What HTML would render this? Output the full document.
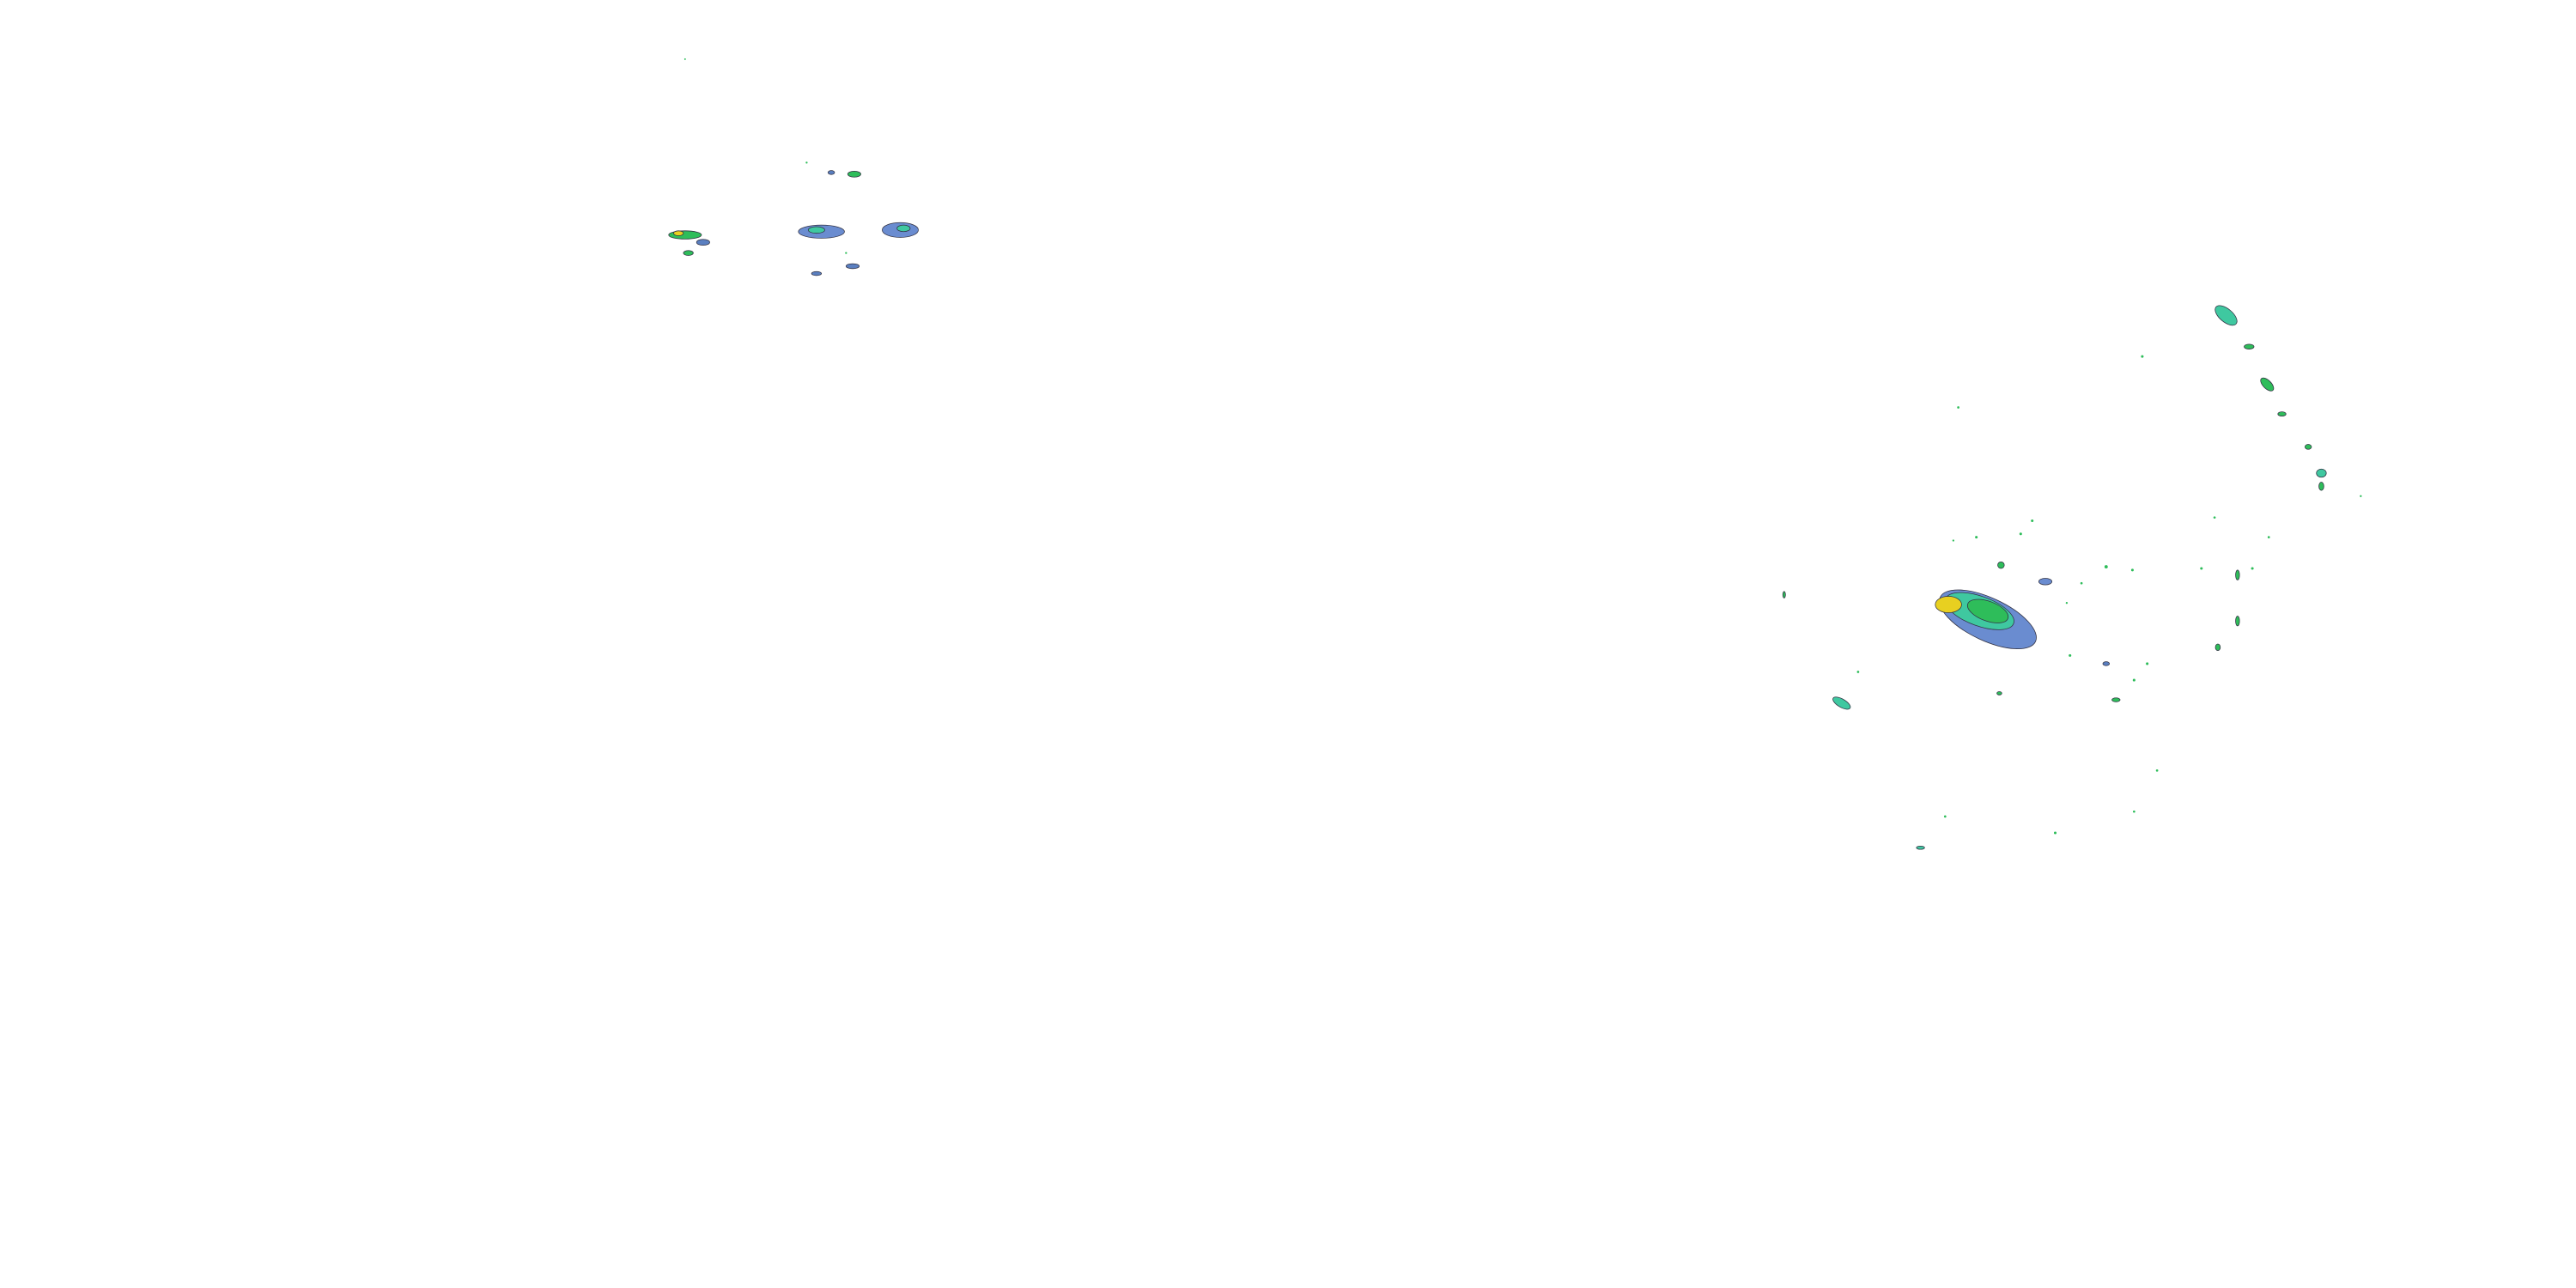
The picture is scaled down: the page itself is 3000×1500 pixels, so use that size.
<!DOCTYPE html>
<html><head><meta charset="utf-8"><style>
html,body{margin:0;padding:0;background:#fff;width:3000px;height:1500px;overflow:hidden}
svg{display:block}
</style></head><body>
<svg width="3000" height="1500" viewBox="0 0 1568 784" preserveAspectRatio="none" xmlns="http://www.w3.org/2000/svg">
<rect width="1568" height="784" fill="#fff"/>
<g stroke="#334" stroke-width="0.4">
<!-- top-left cluster -->
<ellipse cx="417" cy="143" rx="10" ry="2.5" fill="#2ebd5a"/>
<ellipse cx="413" cy="142" rx="3" ry="1.5" fill="#e8d020"/>
<ellipse cx="428" cy="147.5" rx="4" ry="1.8" fill="#5a7fc0"/>
<ellipse cx="419" cy="154" rx="3" ry="1.5" fill="#2ebd5a"/>
<ellipse cx="500" cy="141" rx="14" ry="4" fill="#6a8cd0"/>
<ellipse cx="497" cy="140" rx="5" ry="2" fill="#3fc8a0"/>
<ellipse cx="548" cy="140" rx="11" ry="4.5" fill="#6a8cd0"/>
<ellipse cx="550" cy="139" rx="4" ry="2" fill="#3fc8a0"/>
<ellipse cx="520" cy="106" rx="4" ry="1.8" fill="#2ebd5a"/>
<ellipse cx="506" cy="105" rx="2" ry="1.2" fill="#5a7fc0"/>
<ellipse cx="497" cy="166.5" rx="3" ry="1.2" fill="#5a7fc0"/>
<ellipse cx="519" cy="162" rx="4" ry="1.5" fill="#5a7fc0"/>
<!-- main storm -->
<ellipse cx="1210" cy="377" rx="32" ry="13" fill="#6a8cd0" transform="rotate(25 1210 377)"/>
<ellipse cx="1205" cy="372" rx="22" ry="9" fill="#3fc8a0" transform="rotate(20 1205 372)"/>
<ellipse cx="1210" cy="372" rx="13" ry="6" fill="#2ebd5a" transform="rotate(20 1210 372)"/>
<ellipse cx="1186" cy="368" rx="8" ry="5" fill="#e8d020"/>
<ellipse cx="1245" cy="354" rx="4" ry="2" fill="#6a8cd0"/>
<!-- arc -->
<ellipse cx="1355" cy="192" rx="8" ry="4" fill="#3fc8a0" transform="rotate(40 1355 192)"/>
<ellipse cx="1369" cy="211" rx="3" ry="1.5" fill="#2ebd5a"/>
<ellipse cx="1380" cy="234" rx="5" ry="2.5" fill="#2ebd5a" transform="rotate(45 1380 234)"/>
<ellipse cx="1389" cy="252" rx="2.5" ry="1.3" fill="#2ebd5a"/>
<ellipse cx="1405" cy="272" rx="2" ry="1.5" fill="#2ebd5a"/>
<ellipse cx="1413" cy="288" rx="3" ry="2.5" fill="#3fc8a0"/>
<ellipse cx="1413" cy="296" rx="1.5" ry="2.5" fill="#2ebd5a"/>
<ellipse cx="1121" cy="428" rx="6" ry="2.5" fill="#3fc8a0" transform="rotate(30 1121 428)"/>
<ellipse cx="1362" cy="350" rx="1.2" ry="3" fill="#2ebd5a"/>
<ellipse cx="1362" cy="378" rx="1.2" ry="3" fill="#2ebd5a"/>
<ellipse cx="1350" cy="394" rx="1.5" ry="2" fill="#2ebd5a"/>
<ellipse cx="1288" cy="426" rx="2.5" ry="1.2" fill="#2ebd5a"/>
<ellipse cx="1282" cy="404" rx="2" ry="1.2" fill="#5a7fc0"/>
<ellipse cx="1217" cy="422" rx="1.5" ry="1" fill="#2ebd5a"/>
<ellipse cx="1218" cy="344" rx="2" ry="2" fill="#2ebd5a"/>
<ellipse cx="1169" cy="516" rx="2.5" ry="1" fill="#3fc8a0"/>
<ellipse cx="1086" cy="362" rx="0.8" ry="2" fill="#2ebd5a"/>
</g>
<g fill="#2ebd5a">
<circle cx="1304" cy="217" r="0.8"/><circle cx="1192" cy="248" r="0.7"/>
<circle cx="1203" cy="327" r="0.8"/><circle cx="1230" cy="325" r="0.8"/>
<circle cx="1237" cy="317" r="0.8"/><circle cx="1282" cy="345" r="1"/>
<circle cx="1298" cy="347" r="0.8"/><circle cx="1340" cy="346" r="0.8"/>
<circle cx="1371" cy="346" r="0.8"/><circle cx="1307" cy="404" r="0.8"/>
<circle cx="1299" cy="414" r="0.8"/><circle cx="1260" cy="399" r="0.8"/>
<circle cx="1313" cy="469" r="0.7"/><circle cx="1299" cy="494" r="0.7"/>
<circle cx="1251" cy="507" r="0.8"/><circle cx="1184" cy="497" r="0.7"/>
<circle cx="1131" cy="409" r="0.7"/><circle cx="1348" cy="315" r="0.7"/>
<circle cx="1381" cy="327" r="0.7"/><circle cx="1437" cy="302" r="0.6"/>
<circle cx="1258" cy="367" r="0.6"/><circle cx="1267" cy="355" r="0.7"/>
<circle cx="1189" cy="329" r="0.6"/><circle cx="417" cy="36" r="0.5"/>
<circle cx="491" cy="99" r="0.6"/><circle cx="515" cy="154" r="0.6"/>
</g>
</svg>
</body></html>
